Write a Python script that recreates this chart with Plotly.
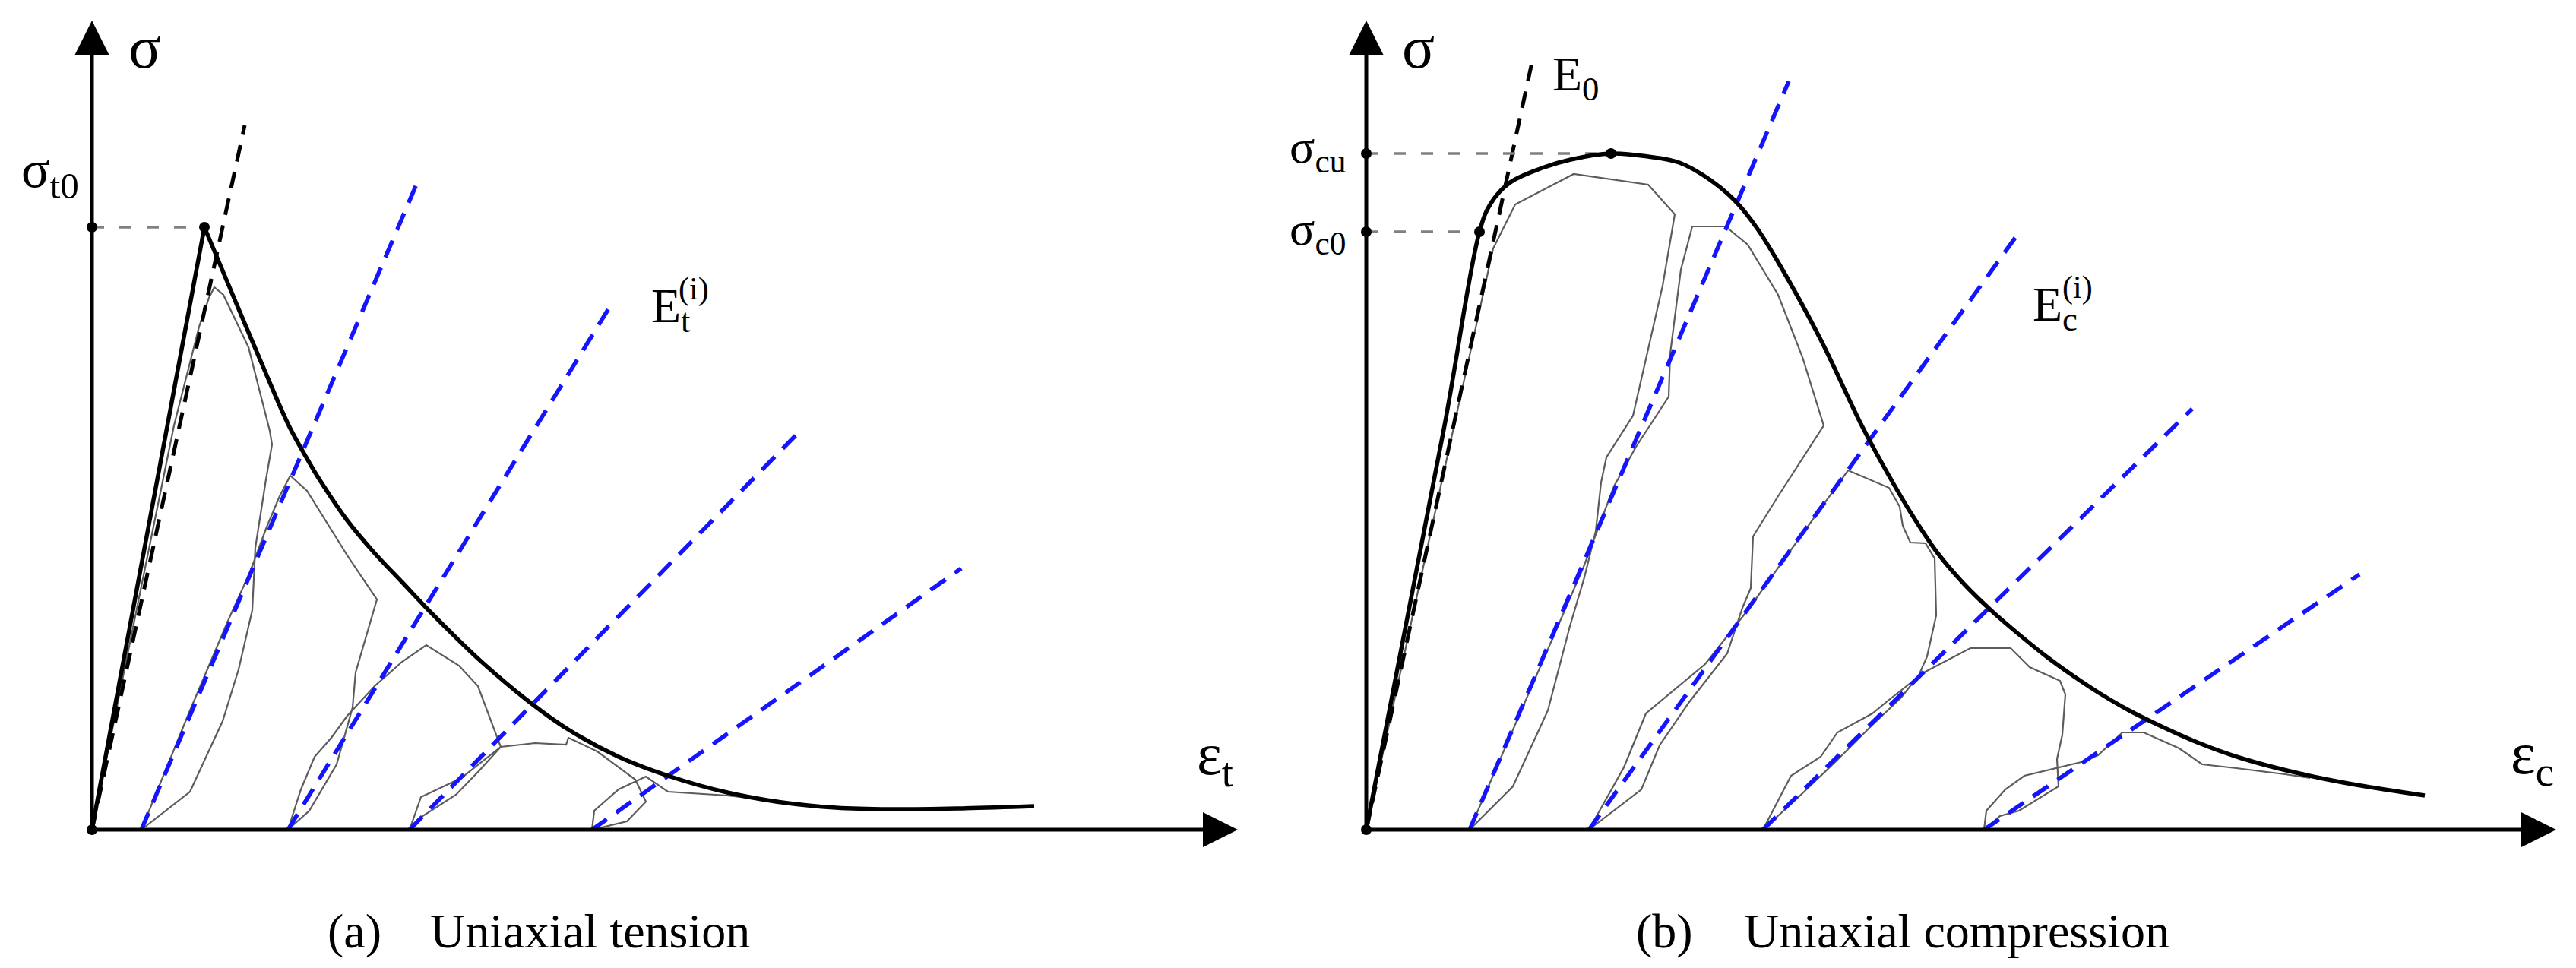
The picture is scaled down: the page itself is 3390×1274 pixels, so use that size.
"""
Schematic stress-strain curves for concrete under cyclic loading:
(a) uniaxial tension, (b) uniaxial compression.
Values are in schematic units (origin at the axes corner).
"""

import plotly.graph_objects as go

# ---------------------------------------------------------------------------
# (a) Uniaxial tension
# ---------------------------------------------------------------------------
t_rise_eps = [0.0, 1.48]
t_rise_sig = [0.0, 7.93]
t_soft_eps = [1.48, 1.89, 2.30, 2.60, 2.85, 3.00, 3.36, 3.72, 4.08, 4.43, 4.79,
              5.15, 5.72, 6.25, 6.93, 7.58, 8.36, 9.08, 9.79, 10.50, 11.39, 12.40]
t_soft_sig = [7.93, 6.95, 5.98, 5.30, 4.85, 4.60, 4.07, 3.64, 3.26, 2.89, 2.53,
              2.19, 1.71, 1.33, 0.96, 0.71, 0.49, 0.36, 0.29, 0.27, 0.28, 0.31]
t_e0_eps = [0.0, 2.01]
t_e0_sig = [0.0, 9.27]
t_unload_eps = [0.65, 2.58, 4.18, 6.58]
t_unload_top_eps = [4.32, 6.85, 9.31, 11.44]
t_unload_top_sig = [8.61, 6.94, 5.24, 3.44]
t_peak_eps = 1.48
t_peak_sig = 7.93
t_cyc_eps = [0.0, 1.08, 1.41, 1.54, 1.61, 1.73, 2.06, 2.34, 2.37,
             2.29, 2.15, 2.11, 1.93, 1.72, 1.29, 0.65,
             1.29, 1.79, 2.08, 2.29, 2.47, 2.61, 2.83, 3.36, 3.75,
             3.47, 3.43, 3.22, 2.86, 2.58,
             2.75, 2.93, 3.15, 3.36, 3.72, 4.08, 4.40, 4.83, 5.08, 5.34, 5.38,
             5.09, 4.79, 4.29, 4.18,
             4.33, 4.86, 5.38, 5.83, 6.24, 6.27, 6.65, 7.15, 7.29, 7.04, 6.58,
             6.61, 6.93, 7.29, 7.58, 8.36, 8.79]
t_cyc_sig = [0.0, 5.32, 6.62, 7.00, 7.14, 7.04, 6.35, 5.25, 5.07,
             4.61, 3.71, 2.89, 2.11, 1.43, 0.50, 0.0,
             1.57, 2.75, 3.39, 3.96, 4.39, 4.66, 4.46, 3.61, 3.03,
             2.07, 1.61, 0.86, 0.25, 0.0,
             0.53, 0.96, 1.21, 1.50, 1.89, 2.21, 2.43, 2.16, 1.89, 1.21, 1.09,
             0.77, 0.46, 0.14, 0.0,
             0.43, 0.68, 1.09, 1.14, 1.12, 1.21, 1.03, 0.66, 0.37, 0.11, 0.0,
             0.25, 0.53, 0.70, 0.50, 0.45, 0.40]

# ---------------------------------------------------------------------------
# (b) Uniaxial compression
# ---------------------------------------------------------------------------
c_env_eps = [0.0, 1.03, 1.49, 1.63, 1.88, 2.29, 2.69, 3.22, 3.71, 4.12, 4.53,
             4.86, 5.14, 5.42, 5.97, 6.52, 6.81, 7.16, 7.52, 7.88, 8.23, 8.59,
             8.95, 9.31, 9.66, 10.02, 10.40, 10.96, 11.52, 12.28, 13.03, 13.93]
c_env_sig = [0.0, 5.32, 7.87, 8.23, 8.51, 8.70, 8.82, 8.90, 8.86, 8.78, 8.55,
             8.27, 7.92, 7.47, 6.47, 5.32, 4.78, 4.18, 3.64, 3.22, 2.88, 2.57,
             2.28, 2.02, 1.79, 1.58, 1.39, 1.14, 0.94, 0.74, 0.59, 0.45]
c_e0_eps = [0.0, 2.20]
c_e0_sig = [0.0, 10.19]
c_unload_eps = [1.36, 2.93, 5.22, 8.13]
c_unload_top_eps = [5.56, 8.59, 10.87, 13.07]
c_unload_top_sig = [9.85, 7.86, 5.54, 3.36]
c_peak_eps = 3.22
c_peak_sig = 8.90
c_yield_eps = 1.49
c_yield_sig = 7.87
c_cyc_eps = [0.0, 0.98, 1.67, 1.96, 2.73, 3.71, 4.06,
             3.90, 3.51, 3.16, 3.09, 3.02, 2.87, 2.68, 2.39, 1.93, 1.36,
             2.86, 3.26, 3.55, 3.98, 4.00, 4.14, 4.29, 4.73, 5.02, 5.42, 5.74, 6.02,
             5.42, 5.09, 5.06, 4.95, 4.75, 4.25, 3.86, 3.62, 2.93,
             3.39, 3.68, 4.46, 5.02, 6.34, 6.88, 7.02, 7.06, 7.16, 7.36, 7.48,
             7.50, 7.38, 7.27,
             7.04, 6.62, 6.17, 5.72, 5.22,
             5.59, 5.98, 6.20, 6.66, 6.88, 7.34, 7.95, 8.48, 8.73, 9.13, 9.20,
             9.16, 9.09, 9.11,
             8.59, 8.34, 8.13,
             8.16, 8.41, 8.66, 9.41, 9.63, 9.95, 10.23, 10.70, 11.00, 11.45,
             12.09, 12.42]
c_cyc_sig = [0.0, 4.52, 7.65, 8.23, 8.63, 8.49, 8.10,
             7.16, 5.45, 4.90, 4.57, 3.93, 3.32, 2.68, 1.57, 0.57, 0.0,
             3.46, 4.52, 5.04, 5.70, 6.27, 7.37, 7.94, 7.94, 7.70, 7.04, 6.22, 5.32,
             4.39, 3.86, 3.18, 2.92, 2.32, 1.68, 1.11, 0.53, 0.0,
             0.82, 1.53, 2.18, 2.89, 4.73, 4.50, 4.25, 4.00, 3.78, 3.77, 3.57,
             2.82, 2.28, 2.03,
             1.74, 1.34, 0.89, 0.46, 0.0,
             0.71, 0.96, 1.28, 1.53, 1.71, 2.07, 2.39, 2.39, 2.14, 1.96, 1.78,
             1.25, 0.93, 0.57,
             0.25, 0.18, 0.0,
             0.25, 0.53, 0.71, 0.89, 0.98, 1.28, 1.28, 1.07, 0.86, 0.81,
             0.73, 0.68]

# ---------------------------------------------------------------------------
# Style
# ---------------------------------------------------------------------------
FONT = "Liberation Serif, Times New Roman, serif"
INK = "#000000"
LOOP = "#5c5c5c"
BLUE = "#1414ff"
GUIDE = "#808080"

AXIS_SIG_END = 10.65          # arrow tips (schematic units)
T_AXIS_EPS_END = 15.08
C_AXIS_EPS_END = 15.66

fig = go.Figure()


def _refs(panel):
    return ("x", "y") if panel == 1 else ("x2", "y2")


def add_line(x, y, panel, color, width, dash="solid", shape="linear"):
    xa, ya = _refs(panel)
    fig.add_trace(go.Scatter(
        x=x, y=y, xaxis=xa, yaxis=ya, mode="lines",
        line=dict(color=color, width=width, dash=dash, shape=shape),
        hoverinfo="skip", showlegend=False,
    ))


def add_markers(x, y, panel, symbol, size):
    xa, ya = _refs(panel)
    fig.add_trace(go.Scatter(
        x=x, y=y, xaxis=xa, yaxis=ya, mode="markers",
        marker=dict(symbol=symbol, size=size, color=INK, line=dict(width=0)),
        hoverinfo="skip", showlegend=False,
    ))


def add_axes(panel, eps_end):
    # shafts stop under the arrow heads
    add_line([0, eps_end - 0.3], [0, 0], panel, INK, 5)
    add_line([0, 0], [0, AXIS_SIG_END - 0.3], panel, INK, 5)
    add_markers([eps_end], [0], panel, "arrow-right", 46)
    add_markers([0], [AXIS_SIG_END], panel, "arrow-up", 46)


def add_unloading(eps0, top_eps, top_sig, panel):
    for e0, te, ts in zip(eps0, top_eps, top_sig):
        add_line([e0, te], [0, ts], panel, BLUE, 5.5, dash="24px,15px")


# ---- panel (a) ------------------------------------------------------------
add_line(t_cyc_eps, t_cyc_sig, 1, LOOP, 2.2)
add_unloading(t_unload_eps, t_unload_top_eps, t_unload_top_sig, 1)
add_line(t_e0_eps, t_e0_sig, 1, INK, 5, dash="22px,14px")
add_line([0, t_peak_eps], [t_peak_sig, t_peak_sig], 1, GUIDE, 3.5, dash="16px,20px")
add_line(t_rise_eps, t_rise_sig, 1, INK, 5.5)
add_line(t_soft_eps, t_soft_sig, 1, INK, 5.5, shape="spline")
add_axes(1, T_AXIS_EPS_END)
add_markers([0, t_peak_eps, 0], [t_peak_sig, t_peak_sig, 0], 1, "circle", 14)

# ---- panel (b) ------------------------------------------------------------
add_line(c_cyc_eps, c_cyc_sig, 2, LOOP, 2.2)
add_unloading(c_unload_eps, c_unload_top_eps, c_unload_top_sig, 2)
add_line(c_e0_eps, c_e0_sig, 2, INK, 5, dash="22px,14px")
add_line([0, c_peak_eps], [c_peak_sig, c_peak_sig], 2, GUIDE, 3.5, dash="16px,20px")
add_line([0, c_yield_eps], [c_yield_sig, c_yield_sig], 2, GUIDE, 3.5, dash="16px,20px")
add_line(c_env_eps, c_env_sig, 2, INK, 5.5, shape="spline")
add_axes(2, C_AXIS_EPS_END)
add_markers([0, c_peak_eps, 0, c_yield_eps, 0],
            [c_peak_sig, c_peak_sig, c_yield_sig, c_yield_sig, 0], 2, "circle", 14)

# ---------------------------------------------------------------------------
# Labels
# ---------------------------------------------------------------------------
labels = [
    # panel, text, x, y, size, xanchor
    (1, "σ", 0.69, 10.30, 80, "center"),
    (1, "σ<sub>t0</sub>", -0.15, 8.64, 70, "right"),
    (1, "E<sub>t</sub>", 7.34, 6.85, 64, "left"),
    (1, "(i)", 7.70, 7.12, 42, "left"),
    (1, "ε<sub>t</sub>", 14.52, 0.94, 78, "left"),
    (1, "(a)", 3.45, -1.33, 64, "center"),
    (1, "Uniaxial tension", 4.43, -1.33, 64, "left"),
    (2, "σ", 0.68, 10.30, 80, "center"),
    (2, "E<sub>0</sub>", 2.43, 9.90, 64, "left"),
    (2, "σ<sub>cu</sub>", -0.25, 8.95, 62, "right"),
    (2, "σ<sub>c0</sub>", -0.25, 7.87, 62, "right"),
    (2, "E<sub>c</sub>", 8.75, 6.87, 64, "left"),
    (2, "(i)", 9.14, 7.14, 42, "left"),
    (2, "ε<sub>c</sub>", 15.04, 0.95, 78, "left"),
    (2, "(b)", 3.92, -1.33, 64, "center"),
    (2, "Uniaxial compression", 4.95, -1.33, 64, "left"),
]
annotations = []
for panel, text, x, y, size, xanchor in labels:
    xa, ya = _refs(panel)
    annotations.append(dict(
        text=text, x=x, y=y, xref=xa, yref=ya, showarrow=False,
        xanchor=xanchor, yanchor="middle",
        font=dict(family=FONT, size=size, color=INK),
    ))

axis_off = dict(visible=False, showgrid=False, zeroline=False, fixedrange=True)
fig.update_layout(
    width=3390,
    height=1274,
    margin=dict(l=0, r=0, t=0, b=0),
    paper_bgcolor="white",
    plot_bgcolor="white",
    showlegend=False,
    annotations=annotations,
    xaxis=dict(domain=[0, 0.5], range=[-1.21, 15.74], anchor="y", **axis_off),
    yaxis=dict(domain=[0, 1], range=[-1.82, 10.92], anchor="x", **axis_off),
    xaxis2=dict(domain=[0.5, 1], range=[-1.03, 15.92], anchor="y2", **axis_off),
    yaxis2=dict(domain=[0, 1], range=[-1.82, 10.92], anchor="x2", **axis_off),
)

fig.write_html("out.html", config={"displayModeBar": False},
               post_script="document.body.style.margin='0';")
